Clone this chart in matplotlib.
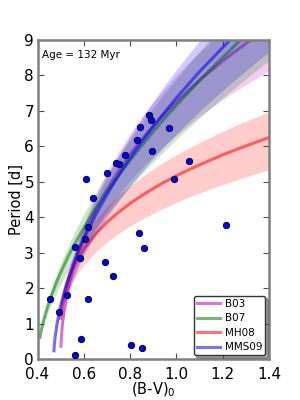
import matplotlib
matplotlib.use("Agg")
import matplotlib.pyplot as plt

# ---- observed stars: (B-V)_0 and rotation period [d] ----
bv = [0.608, 0.641, 0.702, 0.740, 0.751, 0.778, 0.828, 0.843, 0.880, 0.890,
      0.895, 0.967, 0.990, 1.056, 0.620, 0.562, 0.604, 0.585, 0.838, 0.859,
      1.214, 0.690, 0.728, 0.454, 0.526, 0.493, 0.617, 0.587, 0.562, 0.803,
      0.850]
period = [5.08, 4.53, 5.25, 5.52, 5.49, 5.76, 6.17, 6.55, 6.88, 6.74,
          5.87, 6.52, 5.08, 5.59, 3.72, 3.15, 3.38, 2.86, 3.56, 3.13,
          3.79, 2.74, 2.33, 1.68, 1.80, 1.33, 1.68, 0.57, 0.10, 0.39,
          0.32]

tail = [0.65, 0.70, 0.75, 0.80, 0.85, 0.90, 0.95, 1.00, 1.05, 1.10,
        1.15, 1.20, 1.25, 1.30, 1.35, 1.40]

# ---- B03 ----
b03_x = [0.501, 0.503, 0.507, 0.515, 0.53, 0.55, 0.575, 0.60] + tail
b03_mid = [0.36, 0.62, 0.95, 1.38, 1.94, 2.48, 3.02, 3.46, 4.19, 4.79, 5.31, 5.78,
           6.19, 6.58, 6.93, 7.26, 7.57, 7.87, 8.14, 8.41, 8.66, 8.90, 9.13, 9.35]
b03_lo = [0.31, 0.54, 0.83, 1.20, 1.69, 2.16, 2.63, 3.01, 3.65, 4.17, 4.62, 5.03,
          5.39, 5.72, 6.03, 6.32, 6.59, 6.85, 7.09, 7.32, 7.54, 7.74, 7.94, 8.14]
b03_hi = [0.40, 0.69, 1.05, 1.52, 2.13, 2.73, 3.32, 3.81, 4.61, 5.28, 5.85, 6.36,
          6.82, 7.24, 7.63, 8.00, 8.34, 8.66, 8.96, 9.25, 9.53, 9.80, 10.05, 10.29]

# ---- B07 ----
b07_x = [0.41, 0.415, 0.42, 0.43, 0.445, 0.46, 0.48, 0.50, 0.53, 0.56, 0.60] + tail
b07_mid = [0.61, 0.78, 0.93, 1.18, 1.51, 1.79, 2.13, 2.44, 2.86, 3.24, 3.70, 4.23,
           4.72, 5.18, 5.61, 6.02, 6.42, 6.80, 7.16, 7.51, 7.86, 8.19, 8.51, 8.83,
           9.14, 9.44, 9.73]
b07_lo = [0.53, 0.68, 0.80, 1.02, 1.31, 1.55, 1.85, 2.11, 2.47, 2.80, 3.20, 3.66,
          4.09, 4.48, 4.86, 5.22, 5.56, 5.88, 6.20, 6.51, 6.80, 7.09, 7.37, 7.64,
          7.91, 8.17, 8.43]
b07_hi = [0.68, 0.86, 1.02, 1.31, 1.67, 1.98, 2.36, 2.70, 3.16, 3.58, 4.09, 4.67,
          5.22, 5.72, 6.20, 6.66, 7.09, 7.51, 7.91, 8.30, 8.68, 9.05, 9.41, 9.75,
          10.10, 10.43, 10.76]

# ---- MH08 ----
mh08_x = [0.50, 0.502, 0.505, 0.51, 0.52, 0.535, 0.55, 0.575, 0.60] + tail
mh08_mid = [1.15, 1.29, 1.44, 1.65, 1.95, 2.27, 2.51, 2.84, 3.10, 3.52, 3.86, 4.14,
            4.39, 4.61, 4.81, 5.00, 5.17, 5.33, 5.48, 5.62, 5.76, 5.89, 6.01, 6.13,
            6.25]
mh08_lo = [0.99, 1.10, 1.23, 1.41, 1.66, 1.94, 2.15, 2.43, 2.65, 3.01, 3.30, 3.54,
           3.75, 3.94, 4.11, 4.27, 4.42, 4.56, 4.68, 4.81, 4.92, 5.03, 5.14, 5.24,
           5.34]
mh08_hi = [1.29, 1.43, 1.61, 1.84, 2.17, 2.53, 2.80, 3.17, 3.46, 3.93, 4.30, 4.62,
           4.89, 5.14, 5.36, 5.57, 5.76, 5.94, 6.11, 6.27, 6.42, 6.57, 6.71, 6.84,
           6.97]

# ---- MMS09 ----
mms09_x = [0.471, 0.473, 0.477, 0.485, 0.50, 0.52, 0.545, 0.575, 0.60] + tail
mms09_mid = [0.23, 0.42, 0.67, 1.03, 1.51, 2.00, 2.50, 3.01, 3.39, 4.05, 4.64, 5.18,
             5.67, 6.13, 6.56, 6.97, 7.37, 7.74, 8.11, 8.45, 8.79, 9.12, 9.44, 9.75,
             10.05]
mms09_lo = [0.20, 0.36, 0.58, 0.88, 1.30, 1.72, 2.15, 2.59, 2.92, 3.50, 4.00, 4.46,
            4.89, 5.28, 5.66, 6.01, 6.35, 6.68, 6.99, 7.29, 7.58, 7.86, 8.14, 8.41,
            8.67]
mms09_hi = [0.25, 0.47, 0.75, 1.14, 1.67, 2.21, 2.77, 3.33, 3.75, 4.49, 5.15, 5.74,
            6.28, 6.79, 7.27, 7.73, 8.16, 8.58, 8.98, 9.37, 9.75, 10.11, 10.46, 10.81,
            11.14]

model_names = ["B03", "B07", "MH08", "MMS09"]
model_colors = ["m", "g", "r", "b"]
models = [
    (b03_x, b03_mid, b03_lo, b03_hi),
    (b07_x, b07_mid, b07_lo, b07_hi),
    (mh08_x, mh08_mid, mh08_lo, mh08_hi),
    (mms09_x, mms09_mid, mms09_lo, mms09_hi),
]

x_ticks = [0.4, 0.6, 0.8, 1.0, 1.2, 1.4]
y_ticks = [0, 1, 2, 3, 4, 5, 6, 7, 8, 9]

plt.rcParams['font.family'] = ['DejaVu Sans']
fig = plt.figure(figsize=(3, 4), dpi=100)
ax = fig.add_axes([0.125, 0.1025, 0.772, 0.7975])

for name, col, (x, mid, lo, hi) in zip(model_names, model_colors, models):
    ax.fill_between(x, lo, hi, color=col, alpha=0.2, lw=0, zorder=2)
    ax.plot(x, mid, color=col, lw=2.2, alpha=0.55, label=name, zorder=2)

ax.plot(bv, period, 'o', color='b', mec='k', mew=0.6, ms=4.6, zorder=5)

ax.set_xlim(0.4, 1.4)
ax.set_ylim(0, 9)
ax.set_xticks(x_ticks)
ax.set_yticks(y_ticks)
ax.set_xticklabels([f"{v:.1f}" for v in x_ticks])
ax.tick_params(direction='in', top=True, right=True, length=4, width=0.8,
               labelsize=11, color='0.3')
ax.tick_params(axis='y', pad=2.5)
ax.tick_params(axis='x', pad=5.5)
for s in ax.spines.values():
    s.set_color('0.5')
    s.set_linewidth(1.8)

ax.set_xlabel(r"(B-V)$_0$", fontsize=10.5, labelpad=-0.5)
ax.set_ylabel("Period [d]", fontsize=10.5, labelpad=0.5)
ax.text(0.02, 0.953, "Age = 132 Myr", transform=ax.transAxes, fontsize=7.5,
        ha='left', va='center')

leg = ax.legend(loc='lower right', fontsize=7.5, shadow=True, fancybox=True,
                labelspacing=0.42, handlelength=2.2, handletextpad=0.5,
                borderpad=0.3, borderaxespad=0.35, framealpha=1)
leg.get_frame().set_edgecolor('0.2')

fig.savefig("out.png", dpi=100)
